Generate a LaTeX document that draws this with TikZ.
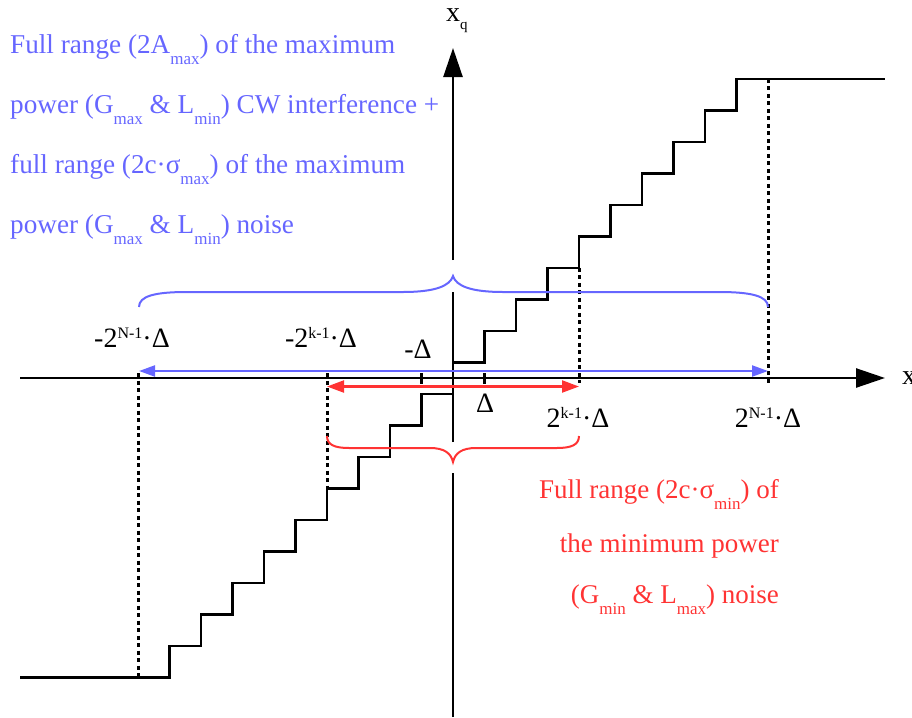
\documentclass[tikz,border=0pt]{standalone}
\usepackage{fontspec}
\setmainfont{Liberation Serif}
\usetikzlibrary{arrows.meta}
\definecolor{bl}{RGB}{102,102,255}
\definecolor{rd}{RGB}{255,51,51}
\newcommand{\lsub}[1]{\raisebox{-11pt}{\fontsize{17}{17}\selectfont #1}}
\newcommand{\lsup}[1]{\raisebox{9pt}{\fontsize{16}{16}\selectfont #1}}
\tikzset{
  axisline/.style={line width=2.5pt},
  stairline/.style={line width=2.5pt, line join=miter},
  dotline/.style={line width=3pt, dash pattern=on 4pt off 3.5pt},
  bluetxt/.style={text=bl, anchor=base west, inner sep=0pt, font=\fontsize{27.2}{27.2}\selectfont},
  redtxt/.style={text=rd, anchor=base east, inner sep=0pt, font=\fontsize{27}{27}\selectfont},
  lbl/.style={anchor=base, inner sep=0pt, font=\fontsize{28}{28}\selectfont},
  bluebrace/.style={draw=bl, line width=2pt},
  redbrace/.style={draw=rd, line width=2pt},
}
\begin{document}
\begin{tikzpicture}[x=1pt,y=-1pt]
\useasboundingbox (0,0) rectangle (912,717);
% coordinates
\coordinate (xl) at (20,378);
\coordinate (xr) at (885,378);
\coordinate (yb) at (453,717);
\coordinate (yt) at (453,48);
\coordinate (g1a) at (453,473);
\coordinate (g1b) at (453,442);
\coordinate (g2a) at (453,292);
\coordinate (g2b) at (453,260);
% axes
\draw[axisline, -{Triangle[length=29pt,width=19pt]}] (xl) -- (xr);
\draw[axisline] (yb) -- (g1a);
\draw[axisline] (g1b) -- (g2a);
\draw[axisline, -{Triangle[length=29pt,width=19pt]}] (g2b) -- (yt);
% ticks
\draw[line width=2.5pt] (421.5,373) -- (421.5,384);
\draw[line width=2.5pt] (484.5,373) -- (484.5,384);
% staircase
\draw[stairline] (20,677.25)
  \foreach \k in {9,...,1} {
    -- ({453-31.5*\k},{378+31.5*(\k+0.5)}) -- ({453-31.5*\k},{378+31.5*(\k-0.5)})
  }
  -- (453,393.75) -- (453,362.25)
  \foreach \k in {1,...,9} {
    -- ({453+31.5*\k},{378-31.5*(\k-0.5)}) -- ({453+31.5*\k},{378-31.5*(\k+0.5)})
  }
  -- (885,78.75);
% dotted verticals
\draw[dotline] (768,78.75) -- (768,383);
\draw[dotline] (579,267.75) -- (579,383);
\draw[dotline] (327,373) -- (327,488.25);
\draw[dotline] (138.5,373) -- (138.5,677.25);
% range arrows
\coordinate (ba) at (139,371);
\coordinate (bb) at (768,371);
\coordinate (ra) at (327,386.5);
\coordinate (rb) at (579,386.5);
\draw[draw=bl, line width=2.2pt, {Triangle[length=16pt,width=11pt]}-{Triangle[length=16pt,width=11pt]}] (ba) -- (bb);
\draw[draw=rd, line width=2.2pt, {Triangle[length=17pt,width=12pt]}-{Triangle[length=17pt,width=12pt]}] (ra) -- (rb);
% braces
\path[bluebrace] (139,307) .. controls (139,296) and (155,292) .. (187,292) -- (403,292)
  .. controls (435,292) and (450,286) .. (453,276)
  .. controls (456,286) and (471,292) .. (503,292) -- (719,292)
  .. controls (751,292) and (768,296) .. (768,307);
\path[redbrace] (327,436) .. controls (327,445) and (335,448) .. (349,448) -- (430,448)
  .. controls (444,448) and (451,453) .. (453,462)
  .. controls (455,453) and (462,448) .. (476,448) -- (557,448)
  .. controls (571,448) and (579,445) .. (579,436);
% axis labels
\node[anchor=base west, inner sep=0pt, font=\fontsize{28}{28}\selectfont] (xq) at (446,22) {x\raisebox{-8pt}{\fontsize{15}{15}\selectfont q}};
\node[anchor=base west, inner sep=0pt, font=\fontsize{28}{28}\selectfont] (xx) at (902,384) {x};
\node[lbl] (l1) at (132,347) {-2\lsup{N-1}·Δ};
\node[lbl] (l2) at (321,347) {-2\lsup{k-1}·Δ};
\node[lbl] (l3) at (418,358) {-Δ};
\node[lbl] (l4) at (485,412) {Δ};
\node[lbl] (l5) at (578,427) {2\lsup{k-1}·Δ};
\node[lbl] (l6) at (768,427) {2\lsup{N-1}·Δ};
% blue text
\node[bluetxt] (b1) at (10,53) {Full range (2A\lsub{max}) of the maximum};
\node[bluetxt] (b2) at (10,113) {power (G\lsub{max} \& L\lsub{min}) CW interference +};
\node[bluetxt] (b3) at (10,173) {full range (2c·σ\lsub{max}) of the maximum};
\node[bluetxt] (b4) at (10,233) {power (G\lsub{max} \& L\lsub{min}) noise};
% red text
\node[redtxt] (r1) at (779,498) {Full range (2c·σ\lsub{min}) of};
\node[redtxt] (r2) at (779,552) {the minimum power};
\node[redtxt] (r3) at (779,603) {(G\lsub{min} \& L\lsub{max}) noise};
\end{tikzpicture}
\end{document}
